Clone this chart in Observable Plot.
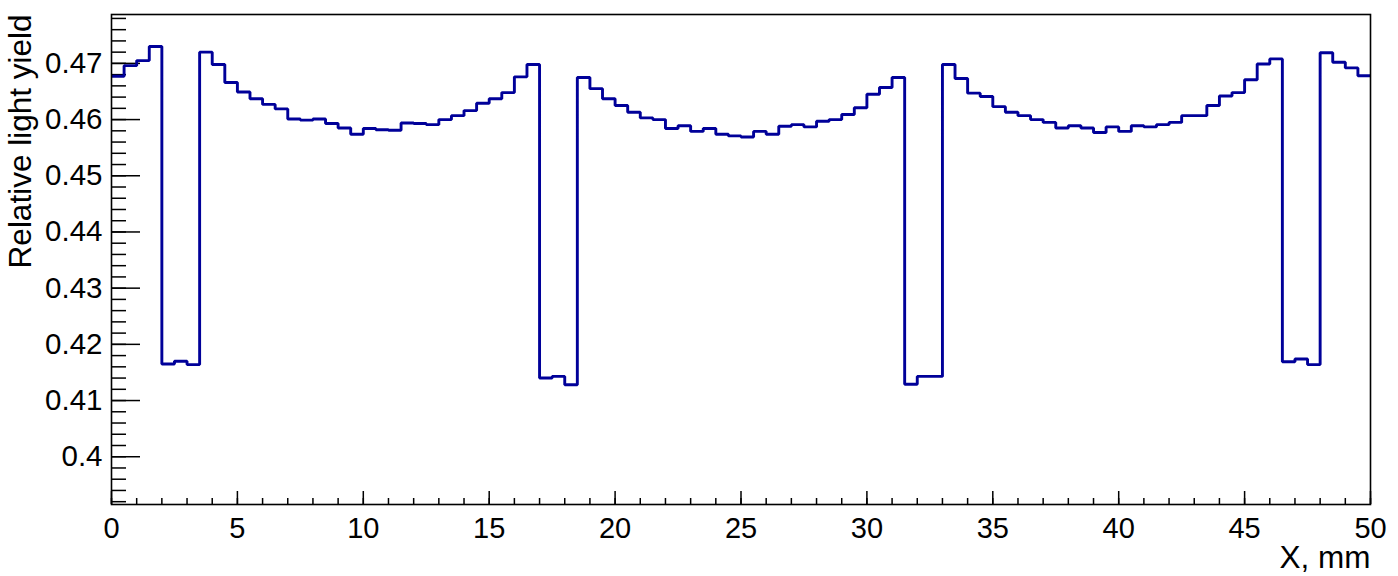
<!DOCTYPE html>
<html>
<head>
<meta charset="utf-8">
<script src="https://cdn.jsdelivr.net/npm/d3@7"></script>
<script src="https://cdn.jsdelivr.net/npm/@observablehq/plot@0.6"></script>
<style>
  html, body { margin: 0; padding: 0; background: white; }
</style>
</head>
<body>
<div id="chart"></div>
<script>
// Histogram definition: 100 bins from 0 to 50 mm
const xMin = 0;
const xMax = 50;
const nBins = 100;

// Bin contents (relative light yield)
const lightYield = [
  0.4677, 0.4696, 0.4705, 0.4730, 0.4165, 0.4170, 0.4164, 0.4720, 0.4698, 0.4666,
  0.4649, 0.4637, 0.4627, 0.4619, 0.4601, 0.4599, 0.4601, 0.4593, 0.4585, 0.4574,
  0.4584, 0.4582, 0.4581, 0.4594, 0.4593, 0.4591, 0.4600, 0.4607, 0.4616, 0.4629,
  0.4637, 0.4648, 0.4676, 0.4698, 0.4140, 0.4143, 0.4128, 0.4675, 0.4655, 0.4637,
  0.4625, 0.4613, 0.4603, 0.4600, 0.4584, 0.4589, 0.4579, 0.4584, 0.4574, 0.4571,
  0.4569, 0.4579, 0.4574, 0.4588, 0.4591, 0.4587, 0.4597, 0.4600, 0.4609, 0.4621,
  0.4645, 0.4657, 0.4675, 0.4129, 0.4143, 0.4143, 0.4698, 0.4673, 0.4647, 0.4641,
  0.4623, 0.4613, 0.4607, 0.4600, 0.4595, 0.4585, 0.4589, 0.4585, 0.4577, 0.4587,
  0.4579, 0.4589, 0.4587, 0.4591, 0.4595, 0.4607, 0.4607, 0.4625, 0.4642, 0.4648,
  0.4671, 0.4699, 0.4708, 0.4169, 0.4174, 0.4164, 0.4719, 0.4702, 0.4692, 0.4678
];

// Axis ticks and labels
const xMajorTicks = [0, 5, 10, 15, 20, 25, 30, 35, 40, 45, 50];
const xMinorTicks = d3.range(0, 51, 1);
const yMajorTicks = [0.40, 0.41, 0.42, 0.43, 0.44, 0.45, 0.46, 0.47];
const yMinorTicks = d3.range(392, 479, 2).map(v => v / 1000);
const yDomain = [0.3915, 0.4787];
const xTitle = "X, mm";
const yTitle = "Relative light yield";

// Step line points: left edge of each bin, plus the right edge of the last bin
const binWidth = (xMax - xMin) / nBins;
const steps = lightYield.map((v, i) => ({x: xMin + i * binWidth, y: v}));
steps.push({x: xMax, y: lightYield[lightYield.length - 1]});

const font = "'Liberation Sans', Arimo, Helvetica, Arial, sans-serif";
const lineColor = "#000099";

const chart = Plot.plot({
  width: 1398,
  height: 576,
  marginLeft: 111,
  marginRight: 28,
  marginTop: 14,
  marginBottom: 72,
  x: {domain: [xMin, xMax]},
  y: {domain: yDomain},
  style: {fontFamily: font, background: "white", color: "black", overflow: "visible"},
  marks: [
    // minor and major ticks, pointing inwards
    Plot.axisX({ticks: xMinorTicks, tickSize: -6, text: null, label: null, strokeWidth: 1.5}),
    Plot.axisX({ticks: xMajorTicks, tickSize: -13, text: null, label: null, strokeWidth: 1.5}),
    Plot.axisX({ticks: xMajorTicks, tickSize: 0, tickPadding: 13, label: null, fontSize: 29,
                tickFormat: d => String(d)}),
    Plot.axisY({ticks: yMinorTicks, tickSize: -15, text: null, label: null, strokeWidth: 1.5}),
    Plot.axisY({ticks: yMajorTicks, tickSize: -29, text: null, label: null, strokeWidth: 1.5}),
    Plot.axisY({ticks: yMajorTicks, tickSize: 0, tickPadding: 9, label: null, fontSize: 29.5,
                tickFormat: d => String(+d.toFixed(3))}),
    Plot.line(steps, {x: "x", y: "y", curve: "step-after", stroke: lineColor, strokeWidth: 2.9,
                      strokeLinejoin: "miter", strokeLinecap: "butt"}),
    Plot.frame({stroke: "black", strokeWidth: 1.6}),
    Plot.text([xTitle], {frameAnchor: "bottom-right", text: d => d, textAnchor: "end",
                         lineAnchor: "middle", dy: 53, fontSize: 31.5, fill: "black"}),
    Plot.text([yTitle], {frameAnchor: "top-left", text: d => d, textAnchor: "end", rotate: -90,
                         lineAnchor: "middle", dx: -91, fontSize: 31.5, fill: "black"})
  ]
});
document.getElementById("chart").appendChild(chart);
</script>
</body>
</html>
